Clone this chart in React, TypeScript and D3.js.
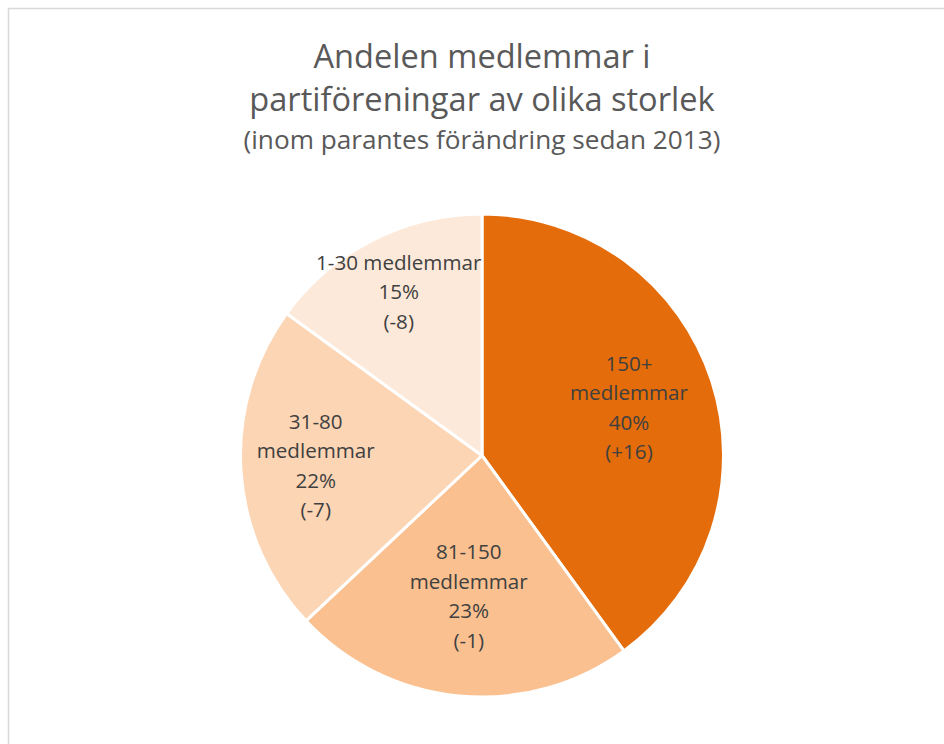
import React from 'react'
import * as d3 from 'd3'

// data
const categories = ['150+ medlemmar', '81-150 medlemmar', '31-80 medlemmar', '1-30 medlemmar']
const shares = [40, 23, 22, 15]
const changes = ['+16', '-1', '-7', '-8']
// how each label is broken into lines (as in the reference)
const labelLines = [
    ['150+', 'medlemmar'],
    ['81-150', 'medlemmar'],
    ['31-80', 'medlemmar'],
    ['1-30 medlemmar'],
]
const colors = ['#E46C0A', '#FAC090', '#FCD5B5', '#FDE9D9']

const titleLines = ['Andelen medlemmar i', 'partiföreningar av olika storlek']
const subtitle = '(inom parantes förändring sedan 2013)'

const width = 944
const height = 744
const cx = 482
const cy = 455.5
const radius = 241.5
// Excel "best fit" puts each label at a slightly different distance
const labelRadius = [0.64, 0.585, 0.69, 0.76]
const lineHeight = 29.5
const font = '"Open Sans", Lato, sans-serif'

const App = () => {
    const pie = d3.pie<number>().sort(null).value(d => d)
    const arcs = pie(shares)
    const arc = d3.arc<d3.PieArcDatum<number>>().innerRadius(0).outerRadius(radius)

    return (
        <svg
            width={width}
            height={height}
            style={{ position: 'absolute', left: 0, top: 0, background: '#fff' }}
        >
            <rect x={8.5} y={8.5} width={width + 20} height={height + 20} fill="#fff" stroke="#D9D9D9" strokeWidth={1.5} />

            <g fontFamily={font} fill="#595959" textAnchor="middle">
                {titleLines.map((t, i) => (
                    <text key={t} x={cx} y={68 + i * 43} fontSize={32.6}>{t}</text>
                ))}
                <text x={cx} y={149} fontSize={26.2}>{subtitle}</text>
            </g>

            <g transform={`translate(${cx},${cy})`}>
                {arcs.map((a, i) => (
                    <path key={categories[i]} d={arc(a) || ''} fill={colors[i]} stroke="#fff" strokeWidth={3} strokeLinejoin="round" />
                ))}
                {arcs.map((a, i) => {
                    const mid = (a.startAngle + a.endAngle) / 2
                    const r = radius * labelRadius[i]
                    const x = r * Math.sin(mid)
                    const y = -r * Math.cos(mid)
                    const lines = [...labelLines[i], `${shares[i]}%`, `(${changes[i]})`]
                    const top = y - ((lines.length - 1) * lineHeight) / 2
                    return (
                        <text key={categories[i]} fontFamily={font} fontSize={20.6} fill="#404040" textAnchor="middle">
                            {lines.map((l, j) => (
                                <tspan key={j} x={x} y={top + j * lineHeight} dy="0.35em">{l}</tspan>
                            ))}
                        </text>
                    )
                })}
            </g>
        </svg>
    )
}

export default App
